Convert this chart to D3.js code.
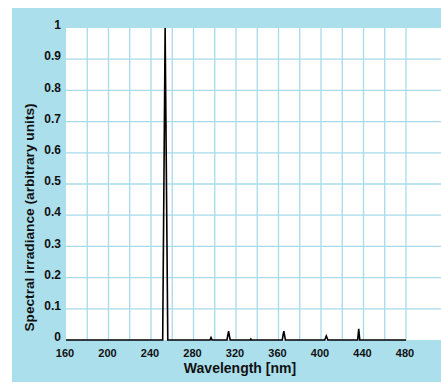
<!DOCTYPE html>
<html>
<head>
<meta charset="utf-8">
<script src="https://cdn.jsdelivr.net/npm/d3@7"></script>
<style>
  body { margin: 0; background: #ffffff; }
  text { font-family: "Liberation Sans Narrow", "Liberation Sans", Arial, sans-serif; font-weight: 700; fill: #111111; }
</style>
</head>
<body>
<div id="graph"></div>
<script>
// spectrum (nm, arbitrary units)
let wavelength = [160, 251, 253.3, 255.8, 295.5, 296.5, 297.5, 311.5, 313, 314.5, 333.5, 334, 334.5,
                  363.5, 365, 366.5, 403.5, 405, 406.5, 434.5, 435.5, 436.5, 480];
let irradiance = [0, 0, 1, 0, 0, 0.008, 0, 0, 0.028, 0, 0, 0.003, 0,
                  0, 0.028, 0, 0, 0.013, 0, 0, 0.036, 0, 0];

let xTicks = [160, 200, 240, 280, 320, 360, 400, 440, 480];
let xGrid = [160, 180, 200, 220, 240, 260, 280, 300, 320, 340, 360, 380, 400, 420, 440, 460, 480];
let yTicks = [0, 0.1, 0.2, 0.3, 0.4, 0.5, 0.6, 0.7, 0.8, 0.9, 1];

let width = 441, height = 382;
let plot = {left: 66, right: 406, top: 28, bottom: 340};

let svg = d3.select("#graph")
    .append("svg")
    .attr("width", width)
    .attr("height", height);

// blue frame
svg.append("rect")
    .attr("x", 12).attr("y", 8)
    .attr("width", width - 12).attr("height", height - 8)
    .attr("fill", "#abdfec");

svg.append("rect")
    .attr("x", plot.left).attr("y", plot.top)
    .attr("width", width - plot.left).attr("height", plot.bottom - plot.top)
    .attr("fill", "#ffffff");

let x = d3.scaleLinear().domain([160, 480]).range([plot.left, plot.right]);
let y = d3.scaleLinear().domain([0, 1]).range([plot.bottom, plot.top]);

let grid = svg.append("g");
grid.selectAll("line.v").data(xGrid.slice(1))
    .enter()
    .append("line")
    .attr("class", "v")
    .attr("x1", function(d) { return x(d); })
    .attr("x2", function(d) { return x(d); })
    .attr("y1", plot.top)
    .attr("y2", plot.bottom)
    .attr("stroke", "#a6dbea")
    .attr("stroke-width", 1.3);

grid.selectAll("line.h").data(yTicks.slice(1, -1))
    .enter()
    .append("line")
    .attr("class", "h")
    .attr("x1", plot.left)
    .attr("x2", width)
    .attr("y1", function(d) { return y(d); })
    .attr("y2", function(d) { return y(d); })
    .attr("stroke", "#a6dbea")
    .attr("stroke-width", 1.3);

// y tick labels
svg.append("g").selectAll("text").data(yTicks)
    .enter()
    .append("text")
    .attr("x", plot.left - 5)
    .attr("y", function(d) { return y(d) - 3; })
    .attr("dy", "0.35em")
    .style("text-anchor", "end")
    .style("font-size", "12px")
    .text(function(d) { return d3.format("")(d); });

// x tick labels
svg.append("g").selectAll("text").data(xTicks)
    .enter()
    .append("text")
    .attr("x", function(d) { return x(d) - 1; })
    .attr("y", 353)
    .attr("dy", "0.35em")
    .style("text-anchor", "middle")
    .style("font-size", "11px")
    .text(function(d) { return d; });

svg.append("text")
    .attr("x", 240)
    .attr("y", 368)
    .attr("dy", "0.35em")
    .style("text-anchor", "middle")
    .style("font-size", "14px")
    .style("font-family", "'Liberation Sans', Arial, sans-serif")
    .text("Wavelength [nm]");

svg.append("text")
    .attr("transform", "translate(29, 217.5) rotate(-90)")
    .attr("dy", "0.35em")
    .style("text-anchor", "middle")
    .style("font-size", "13.7px")
    .style("font-family", "'Liberation Sans', Arial, sans-serif")
    .text("Spectral irradiance (arbitrary units)");

// spectrum
let line = d3.line()
    .x(function(d) { return x(d[0]); })
    .y(function(d) { return y(d[1]); });

svg.append("path")
    .datum(d3.zip(wavelength, irradiance))
    .attr("d", line)
    .attr("fill", "none")
    .attr("stroke", "#000000")
    .attr("stroke-width", 1.6)
    .attr("stroke-linejoin", "miter");
</script>
</body>
</html>
